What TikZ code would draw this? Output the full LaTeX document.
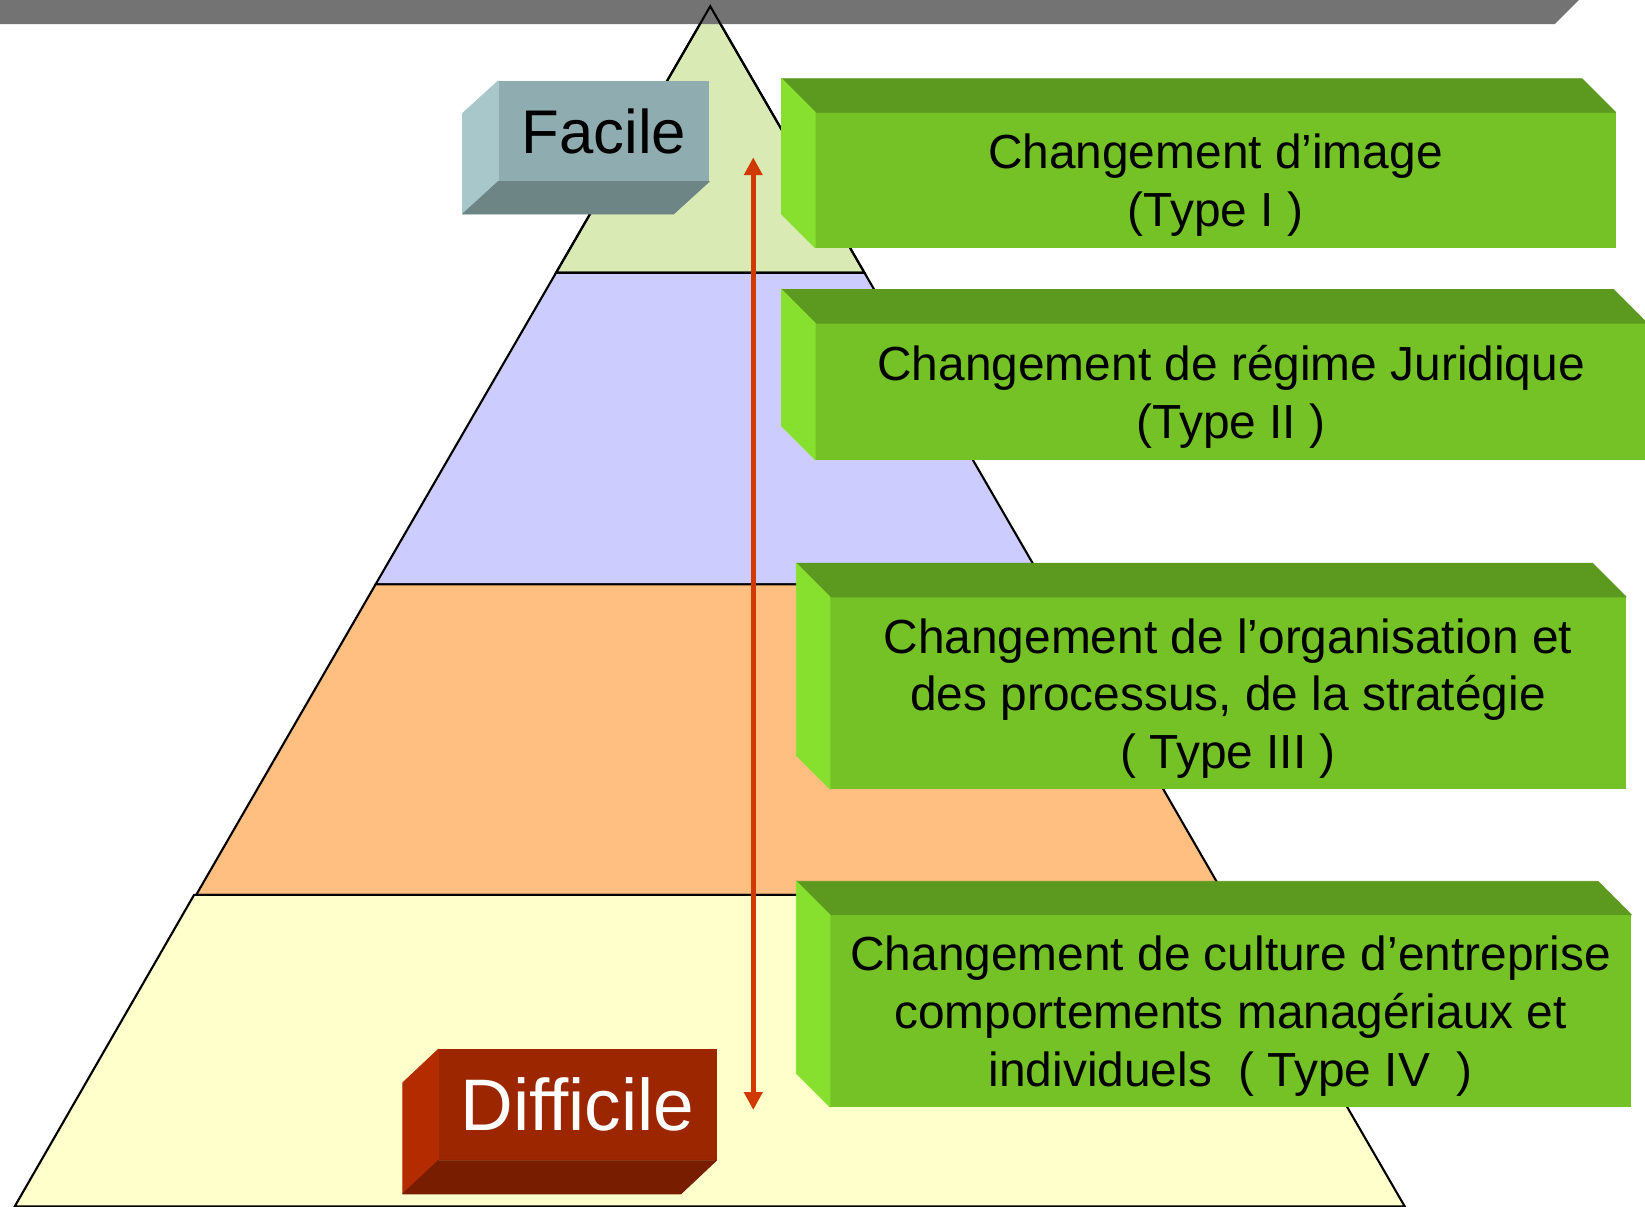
\documentclass[tikz,border=0pt]{standalone}
\usepackage{fontspec}
\setmainfont{Liberation Sans}
\usetikzlibrary{arrows.meta}

\definecolor{tierone}{HTML}{D9EAB4}
\definecolor{tiertwo}{HTML}{CCCCFF}
\definecolor{tierthree}{HTML}{FFBF80}
\definecolor{tierfour}{HTML}{FFFFCC}
\definecolor{topbar}{HTML}{737373}
\definecolor{gfront}{HTML}{74C226}
\definecolor{gleft}{HTML}{88E02E}
\definecolor{gtop}{HTML}{5C9A1F}
\definecolor{bfront}{HTML}{8FADB0}
\definecolor{bleft}{HTML}{A8C7CA}
\definecolor{bbottom}{HTML}{6E8586}
\definecolor{rfront}{HTML}{9C2600}
\definecolor{rleft}{HTML}{B52B00}
\definecolor{rbottom}{HTML}{781D00}
\definecolor{arrowred}{HTML}{D03A00}

\begin{document}
\begin{tikzpicture}[
    x=0.5pt, y=-0.5pt,
    tier/.style={draw=black, line width=1pt, line join=miter},
    face/.style={line width=0.4pt, line join=round},
    gbox/.style={
      rectangle,
      fill=gfront,
      outer sep=0pt
    },
    gtext/.style={
      align=center,
      inner sep=0pt,
      yshift=-2.6pt,
      font=\fontsize{22.8}{27.5}\selectfont
    },
    label/.style={
      rectangle,
      outer sep=0pt,
      inner sep=0pt
    },
    updown/.style={
      {Triangle[width=8.5pt,length=8.5pt]}-{Triangle[width=8.5pt,length=8.5pt]},
      draw=arrowred,
      line width=2.2pt
    }
]

\useasboundingbox (0,0) rectangle (1568,1150);

% pyramid
\filldraw[tier, fill=tierone] (677,6) -- (824,260) -- (530,260) -- cycle;
\filldraw[tier, fill=tiertwo] (530,260) -- (824,260) -- (996,557) -- (358,557) -- cycle;
\filldraw[tier, fill=tierthree] (358,557) -- (996,557) -- (1167,853) -- (187,853) -- cycle;
\filldraw[tier, fill=tierfour] (185,853) -- (1167,853) -- (1339,1150) -- (14,1150) -- cycle;

% grey band at the top
\fill[topbar] (0,0) -- (1505,0) -- (1482,23) -- (0,23) -- cycle;
\draw[line width=1pt] (530,260) -- (677,6) -- (824,260);

% arrow
\coordinate (easy) at (718,150);
\coordinate (hard) at (718,1058);
\draw[updown] (hard) -- (easy);

% Facile
\node[label, fill=bfront, minimum width=100.5pt, minimum height=48pt] (fac) at (575.5,125) {};
\filldraw[face, fill=bleft, draw=bleft] (fac.north west) -- (fac.south west) -- ++(-34,31) -- ++(0,-96) -- cycle;
\filldraw[face, fill=bbottom, draw=bbottom] (fac.south west) -- (fac.south east) -- ++(-34,31) -- ++(-201,0) -- cycle;
\node[font=\fontsize{29.4}{34}\selectfont, inner sep=0pt] (factext) at (fac) {Facile};

% Difficile
\node[label, fill=rfront, minimum width=132.5pt, minimum height=53pt] (dif) at (550.5,1053) {};
\filldraw[face, fill=rleft, draw=rleft] (dif.north west) -- (dif.south west) -- ++(-34,32) -- ++(0,-106) -- cycle;
\filldraw[face, fill=rbottom, draw=rbottom] (dif.south west) -- (dif.south east) -- ++(-34,32) -- ++(-265,0) -- cycle;
\node[font=\fontsize{34.8}{40}\selectfont, text=white, inner sep=0pt] (diftext) at (dif) {Difficile};

% type I
\node[gbox, minimum width=381.5pt, minimum height=64.5pt] (t1) at (1158.5,171.5) {};
\filldraw[face, fill=gtop, draw=gtop] (t1.north west) -- ++(-32,-32) -- ([shift={(-32,-32)}]t1.north east) -- (t1.north east) -- cycle;
\filldraw[face, fill=gleft, draw=gleft] (t1.north west) -- ++(-32,-32) -- ([shift={(-32,-32)}]t1.south west) -- (t1.south west) -- cycle;
\node[gtext] (t1text) at (t1) {Changement d’image\\(Type I )};

% type II
\node[gbox, minimum width=396.5pt, minimum height=65pt] (t2) at (1173.5,373) {};
\filldraw[face, fill=gtop, draw=gtop] (t2.north west) -- ++(-32,-32) -- ([shift={(-32,-32)}]t2.north east) -- (t2.north east) -- cycle;
\filldraw[face, fill=gleft, draw=gleft] (t2.north west) -- ++(-32,-32) -- ([shift={(-32,-32)}]t2.south west) -- (t2.south west) -- cycle;
\node[gtext] (t2text) at (t2) {Changement de régime Juridique\\(Type II )};

% type III
\node[gbox, minimum width=379.5pt, minimum height=91.5pt] (t3) at (1170.5,660.5) {};
\filldraw[face, fill=gtop, draw=gtop] (t3.north west) -- ++(-32,-32) -- ([shift={(-32,-32)}]t3.north east) -- (t3.north east) -- cycle;
\filldraw[face, fill=gleft, draw=gleft] (t3.north west) -- ++(-32,-32) -- ([shift={(-32,-32)}]t3.south west) -- (t3.south west) -- cycle;
\node[gtext] (t3text) at (t3) {Changement de l’organisation et\\des processus, de la stratégie\\( Type III )};

% type IV
\node[gbox, minimum width=382pt, minimum height=91.5pt] (t4) at (1173,963.5) {};
\filldraw[face, fill=gtop, draw=gtop] (t4.north west) -- ++(-32,-32) -- ([shift={(-32,-32)}]t4.north east) -- (t4.north east) -- cycle;
\filldraw[face, fill=gleft, draw=gleft] (t4.north west) -- ++(-32,-32) -- ([shift={(-32,-32)}]t4.south west) -- (t4.south west) -- cycle;
\node[gtext] (t4text) at (t4) {Changement de culture d’entreprise\\comportements managériaux et\\individuels\ \ ( Type IV\ \ )};

\end{tikzpicture}
\end{document}
